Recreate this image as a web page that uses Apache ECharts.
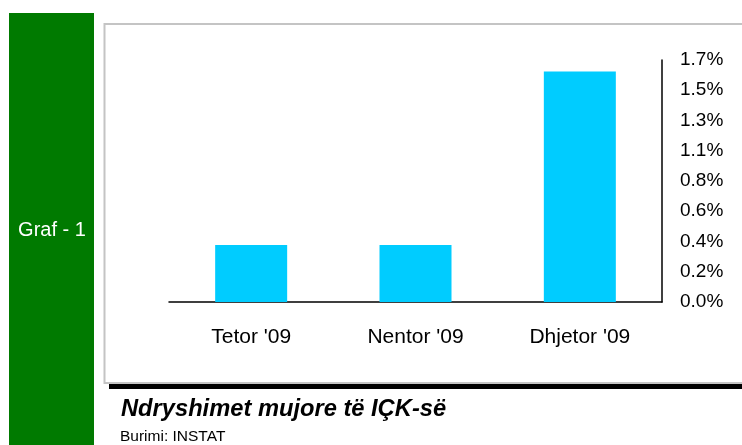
<!DOCTYPE html>
<html><head><meta charset="utf-8">
<script src="https://cdn.jsdelivr.net/npm/echarts@6/dist/echarts.min.js"></script>
<style>html,body{margin:0;padding:0;background:#fff}#c{width:742px;height:445px}</style>
</head><body><div id="c"></div>
<script>
const categories = ["Tetor '09", "Nentor '09", "Dhjetor '09"];
const values = [0.40, 0.40, 1.62];
const yTickLabels = ['0.0%','0.2%','0.4%','0.6%','0.8%','1.1%','1.3%','1.5%','1.7%'];
const yMax = 1.7;
const titleText = 'Ndryshimet mujore të IÇK-së';
const sourceText = 'Burimi: INSTAT';
const sideLabel = 'Graf - 1';

const interval = yMax / (yTickLabels.length - 1);
const chart = echarts.init(document.getElementById('c'));
const FONT = 'Liberation Sans';
chart.setOption({
  animation: false,
  textStyle: { fontFamily: FONT },
  graphic: [
    { type: 'rect', shape: { x: 9, y: 13, width: 85, height: 440 }, style: { fill: '#007A00' }, z: 0 },
    { type: 'text', x: 52, y: 230, style: { text: sideLabel, fill: '#fff', font: '20px ' + FONT, align: 'center', verticalAlign: 'middle' } },
    { type: 'rect', shape: { x: 104.5, y: 24, width: 660, height: 359 }, style: { fill: 'none', stroke: '#c4c4c4', lineWidth: 2 }, z: 0 },
    { type: 'rect', shape: { x: 109, y: 384, width: 640, height: 5 }, style: { fill: '#000' } },
    { type: 'text', x: 121, y: 409, style: { text: titleText, fill: '#000', font: 'italic bold 23.7px ' + FONT, verticalAlign: 'middle' } },
    { type: 'text', x: 120, y: 437, style: { text: sourceText, fill: '#000', font: '15.5px ' + FONT, verticalAlign: 'middle' } }
  ],
  grid: { left: 169, right: 80, top: 60, bottom: 143 },
  xAxis: {
    type: 'category', data: categories,
    axisLine: { lineStyle: { color: '#000', width: 1.5 } },
    axisTick: { show: false },
    axisLabel: { color: '#000', fontSize: 21, margin: 25, fontFamily: FONT }
  },
  yAxis: {
    type: 'value', position: 'right', min: 0, max: yMax, interval: interval,
    axisLine: { show: true, lineStyle: { color: '#000', width: 1.5 } },
    axisTick: { show: false },
    splitLine: { show: false },
    axisLabel: { color: '#000', fontSize: 19, margin: 18, fontFamily: FONT,
      formatter: v => yTickLabels[Math.round(v / interval)] }
  },
  series: [{ type: 'bar', data: values, barWidth: 72, itemStyle: { color: '#00CCFF' } }]
});
</script></body></html>
